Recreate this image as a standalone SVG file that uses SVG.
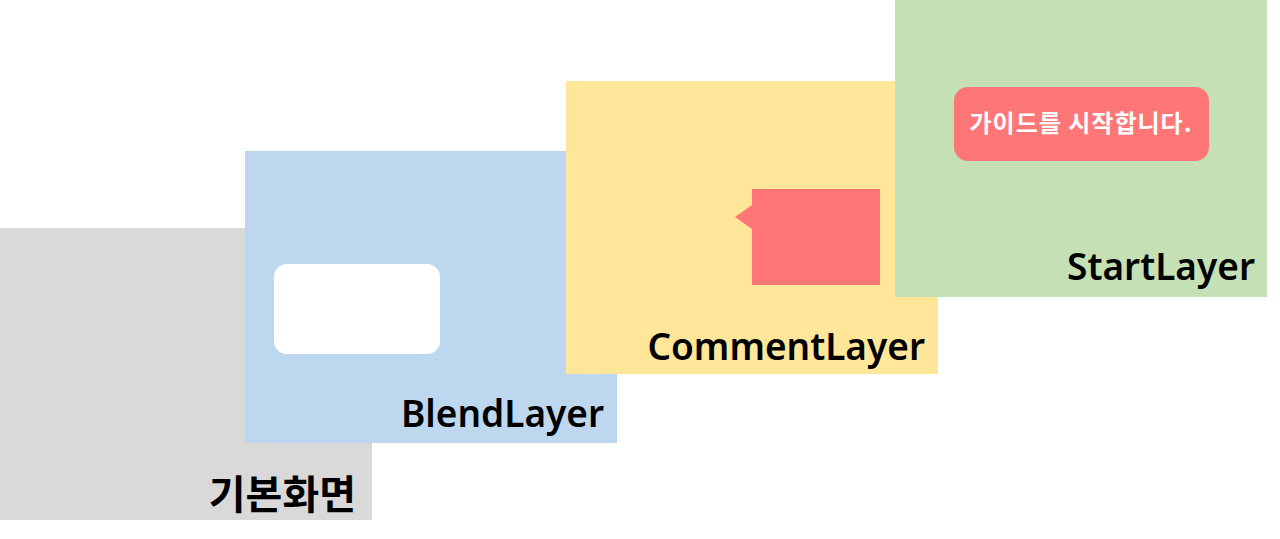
<svg xmlns="http://www.w3.org/2000/svg" width="1280" height="539" viewBox="0 0 1280 539">
<style>
.lbl{font-family:"Noto Sans","Noto Sans CJK KR",sans-serif;font-weight:600;font-size:37px;fill:#000;text-anchor:end}
.klbl{font-family:"Noto Sans CJK KR","Noto Sans",sans-serif;font-weight:700;font-size:40px;fill:#000;text-anchor:end}
.red{fill:#FF7676}
</style>
<rect width="1280" height="539" fill="#fff"/>
<g id="base">
<rect x="0" y="228" width="372" height="292" fill="#D9D9D9"/>
<text class="klbl" x="356" y="509">기본화면</text>
</g>
<g id="blend">
<rect x="245" y="151" width="372" height="292" fill="#BDD7EE"/>
<rect x="274" y="264" width="166" height="90" rx="13" fill="#fff"/>
<text class="lbl" x="604" y="427">BlendLayer</text>
</g>
<g id="comment">
<rect x="566" y="81" width="372" height="293" fill="#FFE699"/>
<path class="red" d="M752 189H880V285H752V229L735 217L752 205Z"/>
<text class="lbl" x="925" y="360">CommentLayer</text>
</g>
<g id="start">
<rect x="895" y="0" width="372" height="297" fill="#C5E0B4"/>
<rect class="red" x="954" y="87" width="255" height="74" rx="14"/>
<text x="1081" y="132" text-anchor="middle" font-family="Noto Sans CJK KR, sans-serif" font-weight="700" font-size="24" letter-spacing="1" fill="#fff">가이드를 시작합니다.</text>
<text class="lbl" x="1255" y="280">StartLayer</text>
</g>
<g id="connectors"/>
</svg>
